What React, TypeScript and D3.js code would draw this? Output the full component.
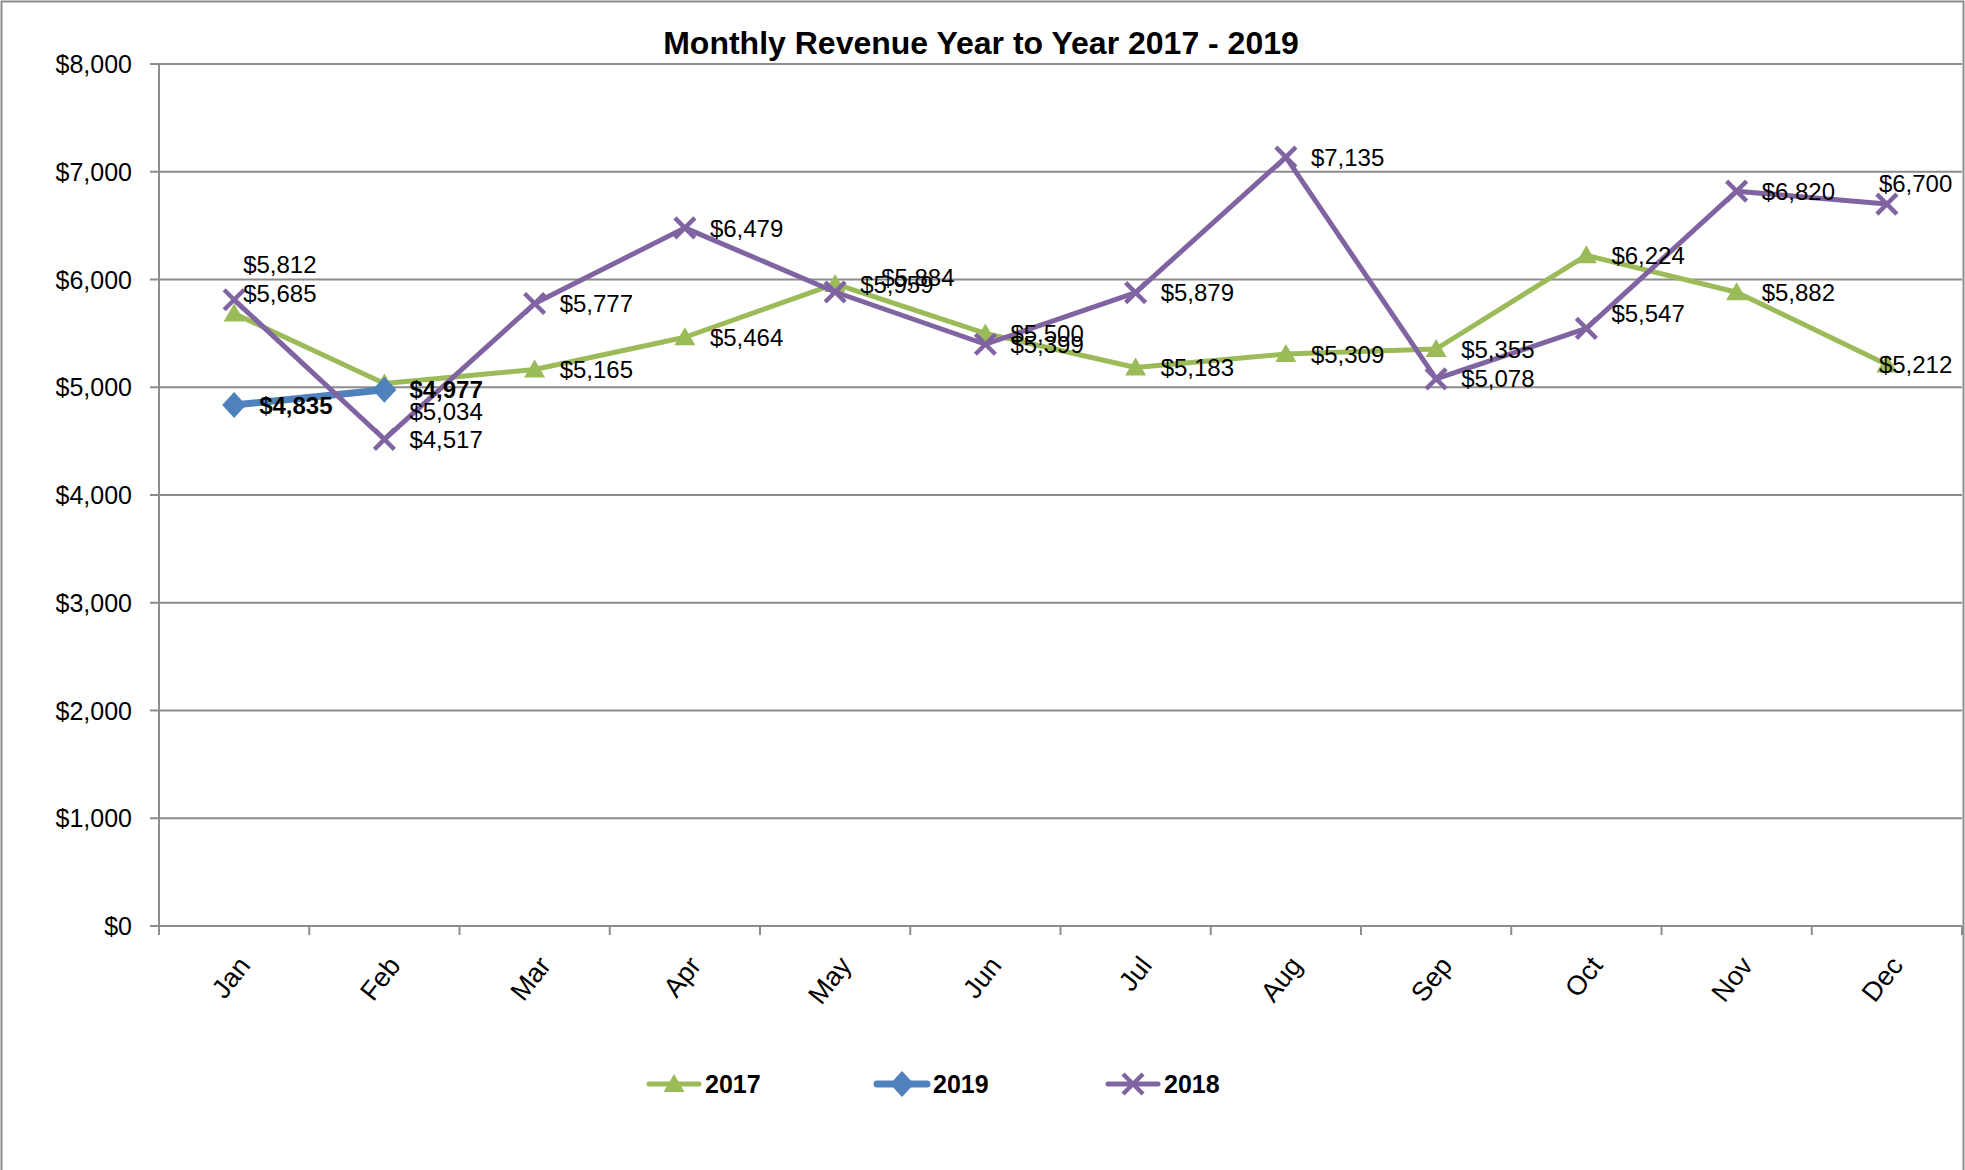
import React from "react";
import * as d3 from "d3";

const months = ["Jan", "Feb", "Mar", "Apr", "May", "Jun", "Jul", "Aug", "Sep", "Oct", "Nov", "Dec"];
const rev2017 = [5685, 5034, 5165, 5464, 5959, 5500, 5183, 5309, 5355, 6224, 5882, 5212];
const rev2018 = [5812, 4517, 5777, 6479, 5884, 5399, 5879, 7135, 5078, 5547, 6820, 6700];
const rev2019 = [4835, 4977];
const yTicks = [0, 1000, 2000, 3000, 4000, 5000, 6000, 7000, 8000];
const seriesNames = ["2017", "2019", "2018"];

// label nudges (layout only)
const nudge2017: Record<number, [number, number]> = { 0: [-16, -20], 1: [0, 28], 11: [-33, 0] };
const nudge2018: Record<number, [number, number]> = { 0: [-16, -35], 4: [21, -15], 9: [0, -15], 11: [-33, -21] };
const nudge2019: Record<number, [number, number]> = {};

const W = 1965;
const H = 1170;
const M = { left: 159, right: 1962, top: 64, bottom: 926 };
const FONT = "'Liberation Sans', Arial, sans-serif";
const GREEN = "#9BBB59";
const BLUE = "#4F81BD";
const PURPLE = "#8064A2";
const GRID = "#8C8C8C";

const fmt = (v: number) => "$" + d3.format(",")(v);

function Marker({ kind, x, y, color }: { kind: string; x: number; y: number; color: string }) {
  if (kind === "tri") {
    const s = 10;
    return <path d={`M${x},${y - s} L${x + s * 1.05},${y + s * 0.8} L${x - s * 1.05},${y + s * 0.8} Z`} fill={color} />;
  }
  if (kind === "dia") {
    const w = 12, h = 13;
    return <path d={`M${x},${y - h} L${x + w},${y} L${x},${y + h} L${x - w},${y} Z`} fill={color} />;
  }
  const s = 10;
  return (
    <g stroke={color} strokeWidth={4.5}>
      <line x1={x - s} y1={y - s} x2={x + s} y2={y + s} />
      <line x1={x - s} y1={y + s} x2={x + s} y2={y - s} />
    </g>
  );
}

export default function App() {
  const x = d3.scaleBand<string>().domain(months).range([M.left, M.right]);
  const y = d3.scaleLinear().domain([0, 8000]).range([M.bottom, M.top]);
  const cx = (m: string) => (x(m) as number) + x.bandwidth() / 2;
  const line = d3
    .line<number>()
    .x((_, i) => cx(months[i]))
    .y((d) => y(d));

  const series = [
    { name: "2017", data: rev2017, color: GREEN, kind: "tri", width: 5, nudge: nudge2017, bold: false },
    { name: "2019", data: rev2019, color: BLUE, kind: "dia", width: 7, nudge: nudge2019, bold: true },
    { name: "2018", data: rev2018, color: PURPLE, kind: "x", width: 5, nudge: nudge2018, bold: false },
  ];

  const legendX = [649, 877, 1108];
  const legendY = 1084;

  return (
    <svg width={W} height={H} style={{ position: "absolute", left: 0, top: 0, background: "#fff" }} fontFamily={FONT}>
      <rect x={1.5} y={1.5} width={W - 3} height={H + 10} fill="#fff" stroke="#8C8C8C" strokeWidth={2} />
      <text x={981} y={54} textAnchor="middle" fontSize={32} fontWeight="bold" fill="#000">
        Monthly Revenue Year to Year 2017 - 2019
      </text>
      {yTicks.map((t) => (
        <g key={t}>
          <line x1={M.left - 9} x2={M.right} y1={y(t)} y2={y(t)} stroke={GRID} strokeWidth={2} />
          <text x={132} y={y(t)} dy="0.36em" textAnchor="end" fontSize={25} fill="#000">
            {fmt(t)}
          </text>
        </g>
      ))}
      <line x1={M.left} x2={M.left} y1={M.top} y2={M.bottom} stroke={GRID} strokeWidth={2} />
      {months.map((m) => (
        <line key={"t" + m} x1={x(m) as number} x2={x(m) as number} y1={M.bottom} y2={M.bottom + 9} stroke={GRID} strokeWidth={2} />
      ))}
      <line x1={M.right} x2={M.right} y1={M.bottom} y2={M.bottom + 9} stroke={GRID} strokeWidth={2} />
      {months.map((m) => (
        <text
          key={"l" + m}
          transform={`translate(${cx(m) + 10},${M.bottom + 34}) rotate(-52)`}
          textAnchor="end"
          dy="0.35em"
          fontSize={27}
          fill="#000"
        >
          {m}
        </text>
      ))}
      {series.map((s) => (
        <g key={s.name}>
          <path d={line(s.data) as string} fill="none" stroke={s.color} strokeWidth={s.width} strokeLinejoin="round" />
          {s.data.map((v, i) => (
            <Marker key={i} kind={s.kind} x={cx(months[i])} y={y(v)} color={s.color} />
          ))}
        </g>
      ))}
      {series.map((s) => (
        <g key={"dl" + s.name}>
          {s.data.map((v, i) => {
            const n = s.nudge[i] || [0, 0];
            return (
              <text
                key={i}
                x={cx(months[i]) + 25 + n[0]}
                y={y(v) + n[1]}
                dy="0.36em"
                fontSize={24}
                fontWeight={s.bold ? "bold" : "normal"}
                fill="#000"
              >
                {fmt(v)}
              </text>
            );
          })}
        </g>
      ))}
      {seriesNames.map((nm, i) => {
        const s = series.find((q) => q.name === nm)!;
        const lx = legendX[i];
        return (
          <g key={"lg" + nm}>
            <line x1={lx} x2={lx + 50} y1={legendY} y2={legendY} stroke={s.color} strokeWidth={s.width} strokeLinecap="round" />
            <Marker kind={s.kind} x={lx + 25} y={legendY} color={s.color} />
            <text x={lx + 56} y={legendY} dy="0.36em" fontSize={25} fontWeight="bold" fill="#000">
              {nm}
            </text>
          </g>
        );
      })}
    </svg>
  );
}
